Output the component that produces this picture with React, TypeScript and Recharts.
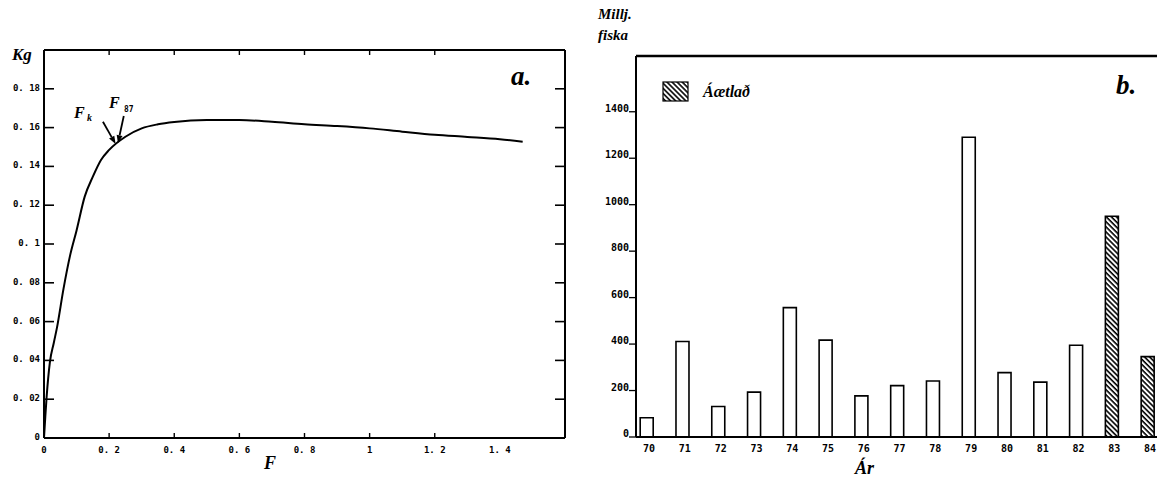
import React from 'react';
import { LineChart, Line, XAxis, YAxis, BarChart, Bar, Cell, ReferenceLine, Legend } from 'recharts';

// a. yield per recruit (Kg) against fishing mortality F
const fValues = [0, 0.004, 0.008, 0.018, 0.03, 0.04, 0.06, 0.08, 0.1, 0.125, 0.15, 0.175, 0.2, 0.25, 0.3, 0.35, 0.4, 0.5, 0.6, 0.7, 0.8, 0.9, 1.0, 1.1, 1.2, 1.3, 1.4, 1.47];
const kgValues = [0, 0.011, 0.021, 0.039, 0.049, 0.057, 0.077, 0.094, 0.107, 0.1244, 0.1347, 0.1433, 0.1485, 0.1553, 0.1596, 0.1617, 0.1629, 0.1639, 0.1639, 0.163, 0.1617, 0.1608, 0.1596, 0.1579, 0.1563, 0.1552, 0.154, 0.1527];
const fTicks = [0, 0.2, 0.4, 0.6, 0.8, 1, 1.2, 1.4];
const fInnerTicks = [0.2, 0.4, 0.6, 0.8, 1, 1.2];
const kgTicks = [0, 0.02, 0.04, 0.06, 0.08, 0.1, 0.12, 0.14, 0.16, 0.18];

// b. recruitment, millions of fish by year
const years = [70, 71, 72, 73, 74, 75, 76, 77, 78, 79, 80, 81, 82, 83, 84];
const fishMillions = [83, 411, 131, 193, 557, 417, 177, 221, 241, 1290, 277, 236, 395, 950, 346];
const estimatedYears = [83, 84];
const countTicks = [0, 200, 400, 600, 800, 1000, 1200, 1400];

const curveData = fValues.map((f, i) => ({ f, kg: kgValues[i] }));
const barData = years.map((year, i) => ({ year, fish: fishMillions[i], est: estimatedYears.includes(year) }));

const MONO = '"DejaVu Sans Mono", monospace';
const SERIF = '"Liberation Serif", serif';

const fmt = (v: number) => String(v).replace('.', '. ');

const LeftYLabel = ({ x, y, payload }: any) => (
  <text x={x - 4} y={y + 2} textAnchor="end" fontFamily={MONO} fontWeight="bold" fontSize={9} fill="#000">{fmt(payload.value)}</text>
);

const BottomFLabel = ({ x, y, payload }: any) => (
  <text x={x} y={y + 15} textAnchor="middle" fontFamily={MONO} fontWeight="bold" fontSize={9} fill="#000">{fmt(payload.value)}</text>
);

const CountTick = ({ x, y, payload }: any) => (
  <g>
    <text x={x - 7} y={y} textAnchor="end" fontFamily={MONO} fontWeight="bold" fontSize={10} fill="#000">{payload.value}</text>
    <line x1={x - 7} x2={x} y1={y} y2={y} stroke="#000" strokeWidth={1.3} />
  </g>
);

const YearTick = ({ x, y, payload }: any) => (
  <text x={x + 2} y={y + 15} textAnchor="middle" fontFamily={MONO} fontWeight="bold" fontSize={10} fill="#000">{payload.value}</text>
);

// inward tick marks at both ends of a horizontal reference line
const HTicks = (p: any) => {
  const { x1, x2, y1 } = p;
  const lo = Math.min(x1, x2);
  const hi = Math.max(x1, x2);
  return (
    <g>
      <line x1={lo} x2={lo + 10} y1={y1} y2={y1} stroke="#000" strokeWidth={1.6} />
      <line x1={hi - 10} x2={hi} y1={y1} y2={y1} stroke="#000" strokeWidth={1.6} />
    </g>
  );
};

// inward tick marks at both ends of a vertical reference line
const VTicks = (p: any) => {
  const { x1, y1, y2 } = p;
  const lo = Math.min(y1, y2);
  const hi = Math.max(y1, y2);
  return (
    <g>
      <line x1={x1} x2={x1} y1={lo} y2={lo + 5} stroke="#000" strokeWidth={1.4} />
      <line x1={x1} x2={x1} y1={hi - 5} y2={hi} stroke="#000" strokeWidth={1.4} />
    </g>
  );
};

const Arrow = (p: any) => {
  const { x1, y1, x2, y2 } = p;
  const a = Math.atan2(y2 - y1, x2 - x1);
  const bx = x2 - 8 * Math.cos(a);
  const by = y2 - 8 * Math.sin(a);
  const px = -Math.sin(a) * 3;
  const py = Math.cos(a) * 3;
  return (
    <g>
      <line x1={x1} y1={y1} x2={bx} y2={by} stroke="#000" strokeWidth={1.8} />
      <polygon points={`${x2},${y2} ${bx + px},${by + py} ${bx - px},${by - py}`} fill="#000" />
    </g>
  );
};

const HatchLegend = () => (
  <div style={{ display: 'flex', alignItems: 'center' }}>
    <svg width={28} height={22}>
      <defs>
        <pattern id="hatchLegend" width={3.6} height={3.6} patternUnits="userSpaceOnUse" patternTransform="rotate(45)">
          <rect width={3.6} height={3.6} fill="#fff" />
          <rect width={3.6} height={1.6} fill="#000" />
        </pattern>
      </defs>
      <rect x={1} y={1} width={25} height={19} fill="url(#hatchLegend)" stroke="#000" strokeWidth={1.2} />
    </svg>
    <span style={{ fontFamily: SERIF, fontStyle: 'italic', fontWeight: 'bold', fontSize: 16, marginLeft: 13, color: '#000' }}>Áætlað</span>
  </div>
);

const axisLine = { stroke: '#000', strokeWidth: 2 };

export default function App() {
  return (
    <div style={{ position: 'absolute', left: 0, top: 0, width: 1157, height: 478, background: '#fff', overflow: 'hidden' }}>
      <div style={{ position: 'absolute', left: 0, top: 0 }}>
        <LineChart width={580} height={478} data={curveData} margin={{ top: 49, right: 14, bottom: 39, left: 43 }}>
          <XAxis dataKey="f" type="number" domain={[0, 1.6]} ticks={fTicks} height={1} tickSize={0} tickMargin={0}
            axisLine={axisLine} tickLine={false} tick={<BottomFLabel />} interval={0} allowDataOverflow />
          <XAxis xAxisId="top" dataKey="f" orientation="top" type="number" domain={[0, 1.6]} height={1}
            axisLine={axisLine} tick={false} tickLine={false} allowDataOverflow />
          <YAxis dataKey="kg" type="number" domain={[0, 0.2]} ticks={kgTicks} width={1} tickSize={0} tickMargin={0}
            axisLine={axisLine} tickLine={false} tick={<LeftYLabel />} interval={0} allowDataOverflow />
          <YAxis yAxisId="right" dataKey="kg" orientation="right" type="number" domain={[0, 0.2]} width={1}
            axisLine={axisLine} tick={false} tickLine={false} allowDataOverflow />
          {kgTicks.slice(1).map(v => (
            <ReferenceLine key={`ky-${v}`} y={v} shape={<HTicks />} />
          ))}
          {fInnerTicks.map(v => (
            <ReferenceLine key={`fx-${v}`} x={v} shape={<VTicks />} />
          ))}
          <Line type="monotone" dataKey="kg" stroke="#000" strokeWidth={2} dot={false} isAnimationActive={false} />
          <ReferenceLine segment={[{ x: 0.181, y: 0.163 }, { x: 0.22, y: 0.1515 }]} shape={<Arrow />} />
          <ReferenceLine segment={[{ x: 0.245, y: 0.166 }, { x: 0.227, y: 0.152 }]} shape={<Arrow />} />
        </LineChart>
      </div>
      <div style={{ position: 'absolute', left: 580, top: 0 }}>
        <BarChart width={577} height={478} data={barData} margin={{ top: 56, right: 0, bottom: 40, left: 55 }}>
          <defs>
            <pattern id="hatch" width={3.6} height={3.6} patternUnits="userSpaceOnUse" patternTransform="rotate(45)">
              <rect width={3.6} height={3.6} fill="#fff" />
              <rect width={3.6} height={1.6} fill="#000" />
            </pattern>
          </defs>
          <XAxis dataKey="year" type="number" domain={[69.69, 84.25]} ticks={years} height={1} tickSize={0} tickMargin={0}
            axisLine={axisLine} tickLine={false} tick={<YearTick />} interval={0} allowDataOverflow />
          <YAxis type="number" domain={[0, 1640]} ticks={countTicks} width={1} tickSize={0} tickMargin={0}
            axisLine={axisLine} tickLine={false} tick={<CountTick />} interval={0} allowDataOverflow />
          <ReferenceLine y={1640} stroke="#000" strokeWidth={2.5} />
          <Legend layout="vertical" verticalAlign="middle" align="center" content={<HatchLegend />}
            wrapperStyle={{ left: 82, top: 81, width: 'auto' }} />
          <Bar dataKey="fish" barSize={13} stroke="#000" strokeWidth={1.6} isAnimationActive={false}>
            {barData.map((d, i) => (
              <Cell key={`c-${i}`} fill={d.est ? 'url(#hatch)' : '#fff'} />
            ))}
          </Bar>
        </BarChart>
      </div>
      <svg width={1157} height={478} style={{ position: 'absolute', left: 0, top: 0, pointerEvents: 'none' }}>
        <g fontFamily={SERIF} fontStyle="italic" fontWeight="bold" fill="#000">
          <text x={12} y={60} fontSize={17}>Kg</text>
          <text x={511} y={85} fontSize={27}>a.</text>
          <text x={264} y={469} fontSize={18}>F</text>
          <text x={74} y={118} fontSize={16}>F</text>
          <text x={87} y={121} fontSize={10}>k</text>
          <text x={109} y={108} fontSize={16}>F</text>
          <text x={598} y={19} fontSize={15}>Millj.</text>
          <text x={598} y={40} fontSize={15}>fiska</text>
          <text x={1116} y={94} fontSize={27}>b.</text>
          <text x={855} y={474} fontSize={18}>Ár</text>
        </g>
        <text x={124} y={112} fontFamily={MONO} fontWeight="bold" fontSize={8} fill="#000">87</text>
      </svg>
    </div>
  );
}
